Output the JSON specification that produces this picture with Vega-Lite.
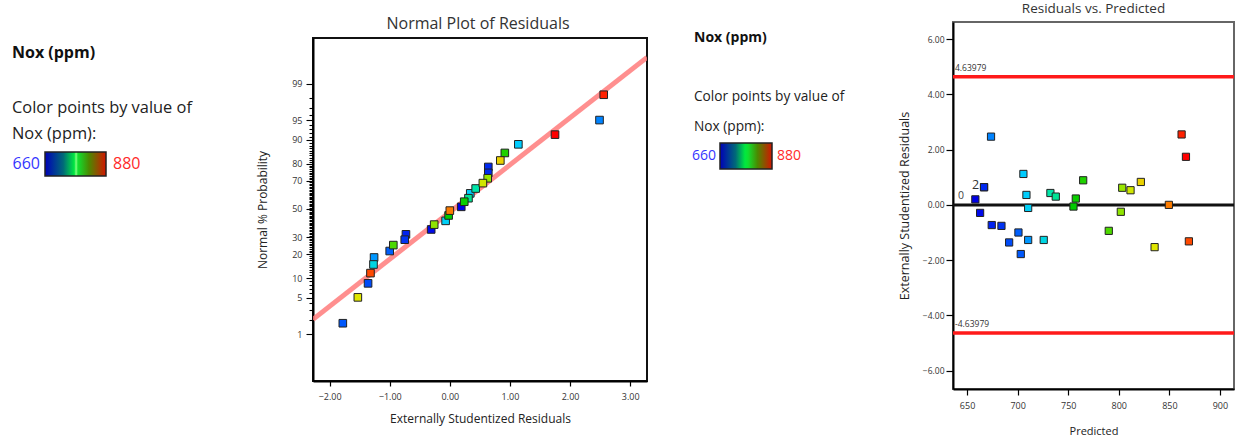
{
 "$schema": "https://vega.github.io/schema/vega-lite/v6.json",
 "padding": 0,
 "spacing": 0,
 "background": "white",
 "datasets": {
  "runs": [
   {"pred": 658.2, "resid": 0.20, "stud": 0.19, "nscore": 0.04, "nox": 660},
   {"pred": 666.8, "resid": 0.64, "stud": 0.64, "nscore": 0.78, "nox": 672},
   {"pred": 666.8, "resid": 0.64, "stud": 0.64, "nscore": 0.67, "nox": 672},
   {"pred": 662.9, "resid": -0.29, "stud": -0.31, "nscore": -0.38, "nox": 663},
   {"pred": 673.7, "resid": 2.47, "stud": 2.49, "nscore": 1.65, "nox": 697},
   {"pred": 705.7, "resid": 1.12, "stud": 1.14, "nscore": 1.20, "nox": 715},
   {"pred": 708.7, "resid": 0.36, "stud": 0.34, "nscore": 0.29, "nox": 716},
   {"pred": 710.4, "resid": -0.11, "stud": -0.07, "nscore": -0.22, "nox": 718},
   {"pred": 732.4, "resid": 0.43, "stud": 0.43, "nscore": 0.38, "nox": 745},
   {"pred": 737.7, "resid": 0.30, "stud": 0.31, "nscore": 0.20, "nox": 748},
   {"pred": 755.2, "resid": -0.06, "stud": -0.02, "nscore": -0.12, "nox": 770},
   {"pred": 757.5, "resid": 0.23, "stud": 0.24, "nscore": 0.135, "nox": 772},
   {"pred": 764.8, "resid": 0.89, "stud": 0.915, "nscore": 1.04, "nox": 776},
   {"pred": 803.4, "resid": 0.62, "stud": 0.63, "nscore": 0.57, "nox": 800},
   {"pred": 811.6, "resid": 0.53, "stud": 0.55, "nscore": 0.48, "nox": 818},
   {"pred": 821.8, "resid": 0.83, "stud": 0.84, "nscore": 0.90, "nox": 830},
   {"pred": 802.0, "resid": -0.25, "stud": -0.26, "nscore": -0.29, "nox": 798},
   {"pred": 849.5, "resid": 0.0, "stud": 0.0, "nscore": -0.03, "nox": 850},
   {"pred": 862.1, "resid": 2.55, "stud": 2.56, "nscore": 2.12, "nox": 872},
   {"pred": 866.4, "resid": 1.74, "stud": 1.75, "nscore": 1.38, "nox": 880},
   {"pred": 674.4, "resid": -0.73, "stud": -0.73, "nscore": -0.47, "nox": 670},
   {"pred": 684.0, "resid": -0.76, "stud": -0.75, "nscore": -0.57, "nox": 675},
   {"pred": 691.6, "resid": -1.36, "stud": -1.36, "nscore": -1.38, "nox": 682},
   {"pred": 700.8, "resid": -1.00, "stud": -1.00, "nscore": -0.78, "nox": 688},
   {"pred": 703.1, "resid": -1.78, "stud": -1.78, "nscore": -2.12, "nox": 686},
   {"pred": 710.4, "resid": -1.27, "stud": -1.26, "nscore": -0.90, "nox": 702},
   {"pred": 725.8, "resid": -1.27, "stud": -1.27, "nscore": -1.03, "nox": 725},
   {"pred": 790.1, "resid": -0.94, "stud": -0.94, "nscore": -0.67, "nox": 785},
   {"pred": 835.4, "resid": -1.53, "stud": -1.53, "nscore": -1.64, "nox": 823},
   {"pred": 869.3, "resid": -1.32, "stud": -1.32, "nscore": -1.19, "nox": 862}
  ],
  "fit": [
   {"stud": -2.276, "nscore": -2.048},
   {"stud": 3.28, "nscore": 2.814}
  ],
  "limits": [
   {"value": 4.63979, "label": "4.63979", "kind": "limit"},
   {"value": -4.63979, "label": "-4.63979", "kind": "limit"},
   {"value": 0, "label": "0", "kind": "zero"}
  ]
 },
 "hconcat": [
  {
   "width": 255, "height": 200,
   "view": {"stroke": null},
   "layer": [
    {"data": {"values": [{"t": "Nox (ppm)"}]},
     "mark": {"type": "text", "align": "left", "baseline": "middle", "fontSize": 16, "fontWeight": "bold", "color": "#111"},
     "encoding": {"text": {"field": "t"},
      "x": {"datum": 12, "type": "quantitative", "scale": {"domain": [0, 255], "nice": false, "zero": false}, "axis": null},
      "y": {"datum": 53, "type": "quantitative", "scale": {"domain": [0, 200], "nice": false, "zero": false, "reverse": true}, "axis": null}}},
    {"data": {"values": [{"t": "Color points by value of"}]},
     "mark": {"type": "text", "align": "left", "baseline": "middle", "fontSize": 16.4, "color": "#222"},
     "encoding": {"text": {"field": "t"},
      "x": {"datum": 12, "type": "quantitative"},
      "y": {"datum": 108, "type": "quantitative"}}},
    {"data": {"values": [{"t": "Nox (ppm):"}]},
     "mark": {"type": "text", "align": "left", "baseline": "middle", "fontSize": 16.4, "color": "#222"},
     "encoding": {"text": {"field": "t"},
      "x": {"datum": 12, "type": "quantitative"},
      "y": {"datum": 134, "type": "quantitative"}}},
    {"data": {"values": [{"t": "660"}]},
     "mark": {"type": "text", "align": "right", "baseline": "middle", "fontSize": 16, "color": "#3535ff"},
     "encoding": {"text": {"field": "t"},
      "x": {"datum": 40, "type": "quantitative"},
      "y": {"datum": 164, "type": "quantitative"}}},
    {"data": {"values": [{"t": "bar"}]},
     "mark": {"type": "rect", "stroke": "#222", "strokeWidth": 1.5,
      "color": {"gradient": "linear", "stops": [
       {"offset": 0, "color": "#0000b8"},
       {"offset": 0.3, "color": "#006a78"},
       {"offset": 0.48, "color": "#00e840"},
       {"offset": 0.51, "color": "#80ff80"},
       {"offset": 0.54, "color": "#10e030"},
       {"offset": 0.72, "color": "#4a8a00"},
       {"offset": 1, "color": "#d41400"}]}},
     "encoding": {
      "x": {"datum": 45, "type": "quantitative"}, "x2": {"datum": 106},
      "y": {"datum": 152, "type": "quantitative"}, "y2": {"datum": 176}}},
    {"data": {"values": [{"t": "880"}]},
     "mark": {"type": "text", "align": "left", "baseline": "middle", "fontSize": 16, "color": "#ff2a2a"},
     "encoding": {"text": {"field": "t"},
      "x": {"datum": 113, "type": "quantitative"},
      "y": {"datum": 164, "type": "quantitative"}}}
   ]
  },
  {
   "spacing": 0,
   "vconcat": [
    {"width": 334, "height": 37, "view": {"stroke": null},
     "data": {"values": [{"t": "Normal Plot of Residuals"}]},
     "mark": {"type": "text", "fontSize": 16, "color": "#333", "dx": -2, "dy": 5},
     "encoding": {"text": {"field": "t"}}},
    {"width": 334, "height": 343,
     "view": {"stroke": "#111", "strokeWidth": 2},
     "layer": [
      {"data": {"name": "fit"},
       "mark": {"type": "line", "color": "#ff7b7b", "strokeWidth": 5, "opacity": 0.85, "clip": true},
       "encoding": {
        "x": {"field": "stud", "type": "quantitative", "title": "Externally Studentized Residuals",
         "scale": {"domain": [-2.276, 3.28], "nice": false, "zero": false},
         "axis": {"values": [-2, -1, 0, 1, 2, 3], "format": ".2f", "labelFontSize": 9, "tickSize": 5, "labelPadding": 6, "titleFontSize": 12, "titlePadding": 12}},
        "y": {"field": "nscore", "type": "quantitative", "title": "Normal % Probability",
         "scale": {"domain": [-3.192, 3.173], "nice": false, "zero": false},
         "axis": {
          "values": [-2.3263,-2.0537,-1.8808,-1.7507,-1.6449,-1.5548,-1.4758,-1.4051,-1.3408,-1.2816,-1.2265,-1.175,-1.1264,-1.0803,-1.0364,-0.9945,-0.9542,-0.9154,-0.8779,-0.8416,-0.8064,-0.7722,-0.7388,-0.7063,-0.6745,-0.6433,-0.6128,-0.5828,-0.5534,-0.5244,-0.4959,-0.4677,-0.4399,-0.4125,-0.3853,-0.3585,-0.3319,-0.3055,-0.2793,-0.2533,-0.2275,-0.2019,-0.1764,-0.151,-0.1257,-0.1004,-0.0753,-0.0502,-0.0251,0,0.0251,0.0502,0.0753,0.1004,0.1257,0.151,0.1764,0.2019,0.2275,0.2533,0.2793,0.3055,0.3319,0.3585,0.3853,0.4125,0.4399,0.4677,0.4959,0.5244,0.5534,0.5828,0.6128,0.6433,0.6745,0.7063,0.7388,0.7722,0.8064,0.8416,0.8779,0.9154,0.9542,0.9945,1.0364,1.0803,1.1264,1.175,1.2265,1.2816,1.3408,1.4051,1.4758,1.5548,1.6449,1.7507,1.8808,2.0537,2.3263],
          "tickCount": 500,
          "labelExpr": "indexof([1,5,10,20,30,50,70,80,90,95,99], round(cumulativeNormal(datum.value)*100)) >= 0 ? '' + round(cumulativeNormal(datum.value)*100) : ''",
          "labelOverlap": false,
          "labelFontSize": 9,
          "labelPadding": 4,
          "tickSize": {"condition": {"test": "indexof([1,5,10,20,30,50,70,80,90,95,99], round(cumulativeNormal(datum.value)*100)) >= 0", "value": 7}, "value": 4},
          "tickWidth": 1.1,
          "titleFontSize": 12,
          "titlePadding": 22}}}},
      {"data": {"name": "runs"},
       "mark": {"type": "square", "size": 58, "stroke": "#222", "strokeWidth": 1, "opacity": 1},
       "encoding": {
        "x": {"field": "stud", "type": "quantitative", "title": "Externally Studentized Residuals"},
        "y": {"field": "nscore", "type": "quantitative", "title": "Normal % Probability"},
        "color": {"field": "nox", "type": "quantitative", "legend": null,
         "scale": {"domain": [660, 690, 715, 745, 770, 800, 825, 855, 880], "range": ["#0000e6", "#0066ff", "#00ccff", "#00e6a8", "#00cc00", "#99e600", "#e6e600", "#ff6600", "#ff0000"], "interpolate": "rgb"}}}}
     ]}
   ]
  },
  {
   "width": 249, "height": 200,
   "view": {"stroke": null},
   "layer": [
    {"data": {"values": [{"t": "Nox (ppm)"}]},
     "mark": {"type": "text", "align": "left", "baseline": "middle", "fontSize": 14, "fontWeight": "bold", "color": "#111"},
     "encoding": {"text": {"field": "t"},
      "x": {"datum": 46, "type": "quantitative", "scale": {"domain": [0, 249], "nice": false, "zero": false}, "axis": null},
      "y": {"datum": 38, "type": "quantitative", "scale": {"domain": [0, 200], "nice": false, "zero": false, "reverse": true}, "axis": null}}},
    {"data": {"values": [{"t": "Color points by value of"}]},
     "mark": {"type": "text", "align": "left", "baseline": "middle", "fontSize": 13.7, "color": "#222"},
     "encoding": {"text": {"field": "t"},
      "x": {"datum": 46, "type": "quantitative"},
      "y": {"datum": 97, "type": "quantitative"}}},
    {"data": {"values": [{"t": "Nox (ppm):"}]},
     "mark": {"type": "text", "align": "left", "baseline": "middle", "fontSize": 13.7, "color": "#222"},
     "encoding": {"text": {"field": "t"},
      "x": {"datum": 46, "type": "quantitative"},
      "y": {"datum": 127, "type": "quantitative"}}},
    {"data": {"values": [{"t": "660"}]},
     "mark": {"type": "text", "align": "right", "baseline": "middle", "fontSize": 14, "color": "#3535ff"},
     "encoding": {"text": {"field": "t"},
      "x": {"datum": 68, "type": "quantitative"},
      "y": {"datum": 156, "type": "quantitative"}}},
    {"data": {"values": [{"t": "bar"}]},
     "mark": {"type": "rect", "stroke": "#222", "strokeWidth": 1.5,
      "color": {"gradient": "linear", "stops": [
       {"offset": 0, "color": "#0000b8"},
       {"offset": 0.3, "color": "#006a78"},
       {"offset": 0.48, "color": "#00e840"},
       {"offset": 0.54, "color": "#10e030"},
       {"offset": 0.72, "color": "#4a8a00"},
       {"offset": 1, "color": "#d41400"}]}},
     "encoding": {
      "x": {"datum": 72, "type": "quantitative"}, "x2": {"datum": 124},
      "y": {"datum": 143, "type": "quantitative"}, "y2": {"datum": 169}}},
    {"data": {"values": [{"t": "880"}]},
     "mark": {"type": "text", "align": "left", "baseline": "middle", "fontSize": 14, "color": "#ff2a2a"},
     "encoding": {"text": {"field": "t"},
      "x": {"datum": 129, "type": "quantitative"},
      "y": {"datum": 156, "type": "quantitative"}}}
   ]
  },
  {
   "spacing": 0,
   "vconcat": [
    {"width": 281, "height": 21, "view": {"stroke": null},
     "data": {"values": [{"t": "Residuals vs. Predicted"}]},
     "mark": {"type": "text", "fontSize": 13.5, "color": "#333", "dy": -2},
     "encoding": {"text": {"field": "t"}}},
    {"width": 281, "height": 367,
     "view": {"stroke": "#666", "strokeWidth": 2},
     "layer": [
      {"data": {"name": "limits"},
       "transform": [{"filter": "datum.kind == 'limit'"}],
       "mark": {"type": "rule", "color": "#ff1a1a", "strokeWidth": 3.5},
       "encoding": {
        "y": {"field": "value", "type": "quantitative", "title": "Externally Studentized Residuals",
         "scale": {"domain": [-6.665, 6.62], "nice": false, "zero": false},
         "axis": {"values": [-6, -4, -2, 0, 2, 4, 6], "format": ".2f", "labelFontSize": 8.5, "tickSize": 7, "labelPadding": 2, "titleFontSize": 12.5, "titlePadding": 11}}}},
      {"data": {"name": "limits"},
       "transform": [{"filter": "datum.kind == 'zero'"}],
       "mark": {"type": "rule", "color": "#111", "strokeWidth": 3},
       "encoding": {
        "y": {"field": "value", "type": "quantitative", "title": "Externally Studentized Residuals"}}},
      {"data": {"name": "runs"},
       "mark": {"type": "square", "size": 52, "stroke": "#222", "strokeWidth": 1, "opacity": 1},
       "encoding": {
        "x": {"field": "pred", "type": "quantitative", "title": "Predicted",
         "scale": {"domain": [636.1, 913.9], "nice": false, "zero": false},
         "axis": {"values": [650, 700, 750, 800, 850, 900], "format": "d", "labelFontSize": 9, "tickSize": 6, "labelPadding": 6, "titleFontSize": 11, "titlePadding": 15}},
        "y": {"field": "resid", "type": "quantitative", "title": "Externally Studentized Residuals"},
        "color": {"field": "nox", "type": "quantitative", "legend": null,
         "scale": {"domain": [660, 690, 715, 745, 770, 800, 825, 855, 880], "range": ["#0000e6", "#0066ff", "#00ccff", "#00e6a8", "#00cc00", "#99e600", "#e6e600", "#ff6600", "#ff0000"], "interpolate": "rgb"}}}},
      {"data": {"name": "limits"},
       "transform": [{"filter": "datum.kind == 'limit'"}],
       "mark": {"type": "text", "align": "left", "baseline": "bottom", "fontSize": 8.5, "color": "#333", "dx": 2, "dy": -4},
       "encoding": {
        "text": {"field": "label"},
        "x": {"datum": 636.1, "type": "quantitative", "title": "Predicted"},
        "y": {"field": "value", "type": "quantitative", "title": "Externally Studentized Residuals"}}},
      {"data": {"name": "limits"},
       "transform": [{"filter": "datum.kind == 'zero'"}],
       "mark": {"type": "text", "align": "left", "baseline": "bottom", "fontSize": 10.5, "color": "#444", "dx": 5, "dy": -4},
       "encoding": {
        "text": {"field": "label"},
        "x": {"datum": 636.1, "type": "quantitative", "title": "Predicted"},
        "y": {"field": "value", "type": "quantitative", "title": "Externally Studentized Residuals"}}},
      {"data": {"name": "runs"},
       "transform": [
        {"aggregate": [{"op": "count", "as": "n"}], "groupby": ["pred", "resid"]},
        {"filter": "datum.n > 1"}],
       "mark": {"type": "text", "align": "right", "baseline": "middle", "fontSize": 12.5, "color": "#333", "dx": -5, "dy": -2},
       "encoding": {
        "text": {"field": "n", "type": "quantitative"},
        "x": {"field": "pred", "type": "quantitative", "title": "Predicted"},
        "y": {"field": "resid", "type": "quantitative", "title": "Externally Studentized Residuals"}}}
     ]}
   ]
  }
 ],
 "config": {
  "font": "Open Sans",
  "view": {"stroke": null},
  "axis": {"grid": false, "labelFont": "Open Sans", "titleFont": "Open Sans", "titleFontWeight": "normal", "labelColor": "#333", "titleColor": "#222", "domainColor": "#000", "domainWidth": 2, "tickColor": "#000", "tickWidth": 1.2, "labelFlush": false},
  "text": {"font": "Open Sans"}
 }
}
